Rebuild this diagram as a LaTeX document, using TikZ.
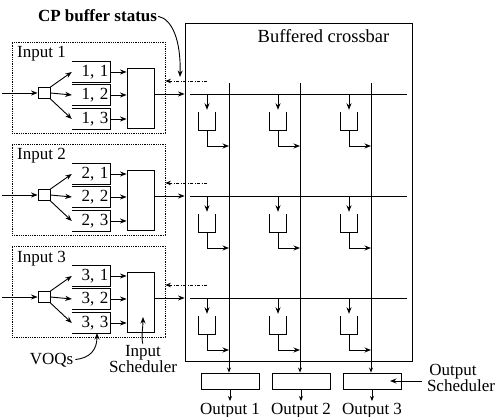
\documentclass[tikz,border=0pt]{standalone}
\usepackage{fontspec}
\setmainfont{Liberation Serif}
\usetikzlibrary{arrows.meta,calc}
\tikzset{
  ln/.style={line width=0.9pt},
  arr/.style={ln, -{Stealth[length=6.5pt,width=5pt]}},
  sarr/.style={ln, -{Stealth[length=5pt,width=4pt]}},
  txt/.style={font=\fontsize{17}{19}\selectfont, inner sep=0pt},
  inbox/.style={draw, densely dotted, line width=0.8pt, minimum width=153pt, minimum height=91pt, inner sep=0pt},
  sqbox/.style={draw, ln, minimum width=12pt, minimum height=11pt, inner sep=0pt},
  voqbox/.style={minimum width=38pt, minimum height=20pt, inner sep=0pt, text width=35pt, align=right, font=\fontsize{17}{19}\selectfont},
  schbox/.style={draw, ln, minimum width=27pt, minimum height=60pt, inner sep=0pt},
  cupbox/.style={minimum width=16pt, minimum height=18pt, inner sep=0pt},
  oschbox/.style={draw, ln, minimum width=58pt, minimum height=16pt, inner sep=0pt},
  xbarbox/.style={draw, line width=0.8pt, minimum width=227pt, minimum height=338pt, inner sep=0pt},
  fbk/.style={line width=0.7pt, dash pattern=on 3pt off 1.5pt on 1pt off 1.5pt, -{Stealth[length=5.5pt,width=4.5pt]}},
}
\begin{document}
\begin{tikzpicture}[x=1pt, y=-1pt]
\useasboundingbox (0,0) rectangle (504,417);
% crossbar
\node[xbarbox] (xbar) at (298.5,192) {};
\node[txt, font=\fontsize{18.5}{20}\selectfont, anchor=base] (bxl) at (323.5,43) {Buffered crossbar};
% columns and output schedulers
\foreach \j/\xx in {1/229,2/300,3/371}{
  \coordinate (ct\j) at (\xx,83);
  \node[oschbox] (os\j) at (\xx+1,381) {};
  \draw[sarr] (ct\j) -- (ct\j |- os\j.north);
  \node[txt, anchor=base] (ol\j) at (\xx+1,414) {Output \j};
  \draw[sarr, shorten >=1.5pt] (os\j.south) -- (ol\j.north -| os\j.south);
}
% inputs and rows
\foreach \k in {1,2,3}{
  \pgfmathsetmacro{\dy}{(\k-1)*102}
  \node[inbox] (in\k) at (88.5,87.5+\dy) {};
  \node[txt, anchor=base west] (inl\k) at (17,58+\dy) {Input \k};
  \node[sqbox] (sq\k) at (44,93+\dy) {};
  \coordinate (src\k) at (2,93+\dy);
  \draw[arr] (src\k) -- (sq\k.west);
  \node[schbox] (sch\k) at (140.5,98+\dy) {};
  \foreach \j/\yy/\an in {1/72/north east,2/95/east,3/119/south east}{
    \node[voqbox] (v\k\j) at (91,\yy+\dy) {\k, \j};
    \draw[ln] (v\k\j.north west) -- (v\k\j.north east) -- (v\k\j.south east) -- (v\k\j.south west);
    \draw[arr] (sq\k.\an) -- (v\k\j.west);
    \draw[arr] (v\k\j.east) -- (v\k\j.east -| sch\k.west);
  }
  \coordinate (rl\k) at (190,94+\dy);
  \coordinate (rr\k) at (407,94+\dy);
  \draw[ln] (rl\k) -- (rr\k);
  \draw[arr] (sch\k.east |- rl\k) -- (xbar.west |- rl\k);
  \coordinate (fs\k) at (207,81+\dy);
  \draw[fbk] (fs\k) -- (in\k.east |- fs\k);
  \foreach \j/\xx in {1/229,2/300,3/371}{
    \coordinate (tap\k\j) at (\xx-22,94+\dy);
    \node[cupbox] (cup\k\j) at (\xx-22,121+\dy) {};
    \draw[ln] (cup\k\j.north west) -- (cup\k\j.south west) -- (cup\k\j.south east) -- (cup\k\j.north east);
    \draw[arr, shorten >=2pt] (tap\k\j) -- (cup\k\j.north);
    \coordinate (mg\k\j) at (\xx,146+\dy);
    \draw[arr] (cup\k\j.south) |- (mg\k\j);
  }
}
% labels with pointers
\node[txt, font=\bfseries\fontsize{17}{19}\selectfont, anchor=base] (cp) at (97.5,22) {CP buffer status};
\coordinate (cptip) at (180,77);
\draw[arr, shorten <=1pt] (cp.east) .. controls (172,19) and (181,40) .. (cptip);
\node[txt, anchor=base] (vq) at (51.5,364) {VOQs};
\coordinate (vqtip) at (97,333);
\draw[arr, shorten <=2pt] (vq.east) .. controls (90,358) and (97,350) .. (vqtip);
\node[txt, anchor=base] (is1) at (143,356) {Input};
\node[txt, anchor=base] (is2) at (143,372) {Scheduler};
\coordinate (istip) at (143,317);
\draw[arr, shorten <=1pt] (is1.north) .. controls (141,336) and (143,328) .. (istip);
\node[txt, anchor=base] (osl1) at (453,375) {Output};
\node[txt, anchor=base] (osl2) at (461,391) {Scheduler};
\coordinate (osa) at (422,381);
\coordinate (ostip) at (390,381);
\draw[arr] (osa) -- (ostip);
\end{tikzpicture}
\end{document}
